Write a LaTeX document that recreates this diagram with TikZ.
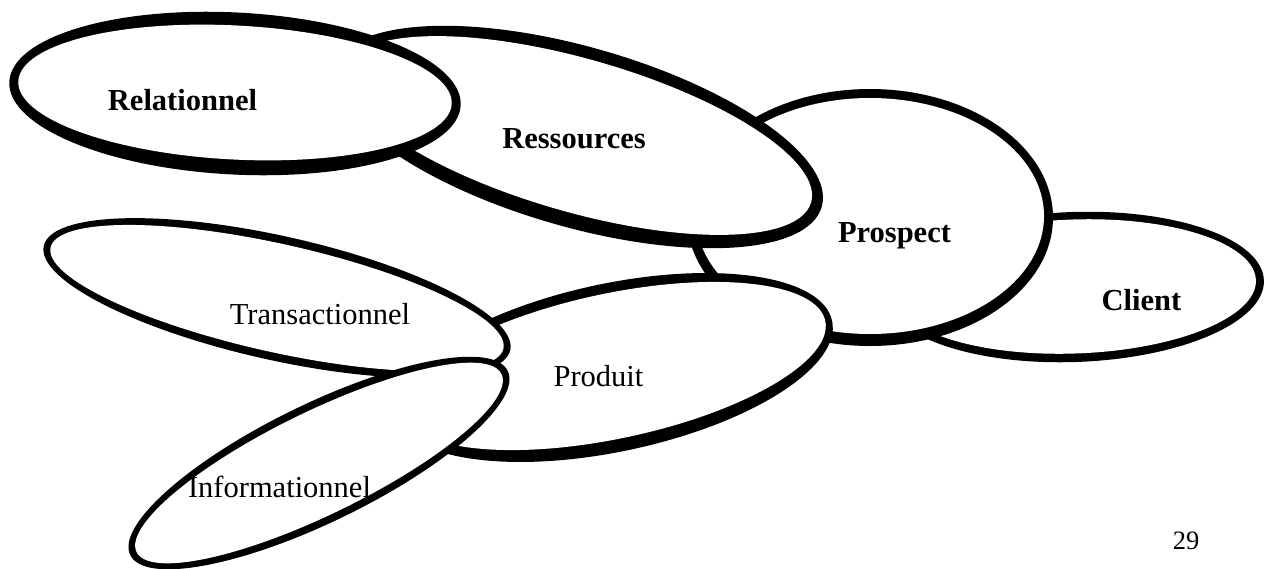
\documentclass[tikz,border=0pt]{standalone}
\usepackage{fontspec}
\setmainfont{Liberation Serif}

\tikzset{
  rim/.style={fill=black},
  core/.style={fill=white},
  tag/.style={inner sep=0pt, anchor=base, font=\fontsize{15.25pt}{18pt}\selectfont},
  boldtag/.style={tag, font=\fontsize{15.25pt}{18pt}\selectfont\bfseries}
}

\begin{document}
\begin{tikzpicture}[x=0.5pt, y=-0.5pt]
  \useasboundingbox (0,0) rectangle (1269,568);
  \fill[white] (0,0) rectangle (1269,568);

  % Client (bottom of the stack)
  \fill[rim, rotate around={2:(1074,287)}] (1074,287) ellipse [x radius=190, y radius=75];
  \fill[core, rotate around={2:(1074,286.5)}] (1074,286.5) ellipse [x radius=182, y radius=67];

  % Prospect
  \fill[rim] (870,217.5) ellipse [x radius=183, y radius=128.5];
  \fill[core] (870,216) ellipse [x radius=174, y radius=118];

  % Ressources
  \fill[rim, rotate around={-16:(578,137)}] (578,137) ellipse [x radius=253.5, y radius=90];
  \fill[core, rotate around={-16:(578,135.5)}] (578,135.5) ellipse [x radius=242.5, y radius=76.5];

  % Relationnel
  \fill[rim, rotate around={-3:(235,93.5)}] (235,93.5) ellipse [x radius=226, y radius=81];
  \fill[core, rotate around={-3:(235,92.5)}] (235,92.5) ellipse [x radius=217, y radius=67];

  % Produit
  \fill[rim, rotate around={12:(613,367.5)}] (613,367.5) ellipse [x radius=224, y radius=84];
  \fill[core, rotate around={12:(613,366)}] (613,366) ellipse [x radius=217, y radius=72.5];

  % Transactionnel
  \fill[rim, rotate around={-12.6:(277,298)}] (277,298) ellipse [x radius=239, y radius=62];
  \fill[core, rotate around={-12.6:(277,298)}] (277,298) ellipse [x radius=232, y radius=54];

  % Informationnel (top of the stack)
  \fill[rim, rotate around={26:(319,463)}] (319,463) ellipse [x radius=210, y radius=59];
  \fill[core, rotate around={26:(319,463)}] (319,463) ellipse [x radius=203, y radius=51.5];

  % labels
  \node[boldtag] (relationnel) at (182.5,110) {Relationnel};
  \node[boldtag] (ressources) at (574,148) {Ressources};
  \node[boldtag] (prospect) at (894.5,242) {Prospect};
  \node[boldtag] (client) at (1141.5,310) {Client};
  \node[tag] (transactionnel) at (320,324) {Transactionnel};
  \node[tag] (produit) at (598.5,386) {Produit};
  \node[tag] (informationnel) at (279.5,497) {Informationnel};
  \node[tag, font=\fontsize{13.25pt}{16pt}\selectfont] (page) at (1186,549) {29};
\end{tikzpicture}
\end{document}
